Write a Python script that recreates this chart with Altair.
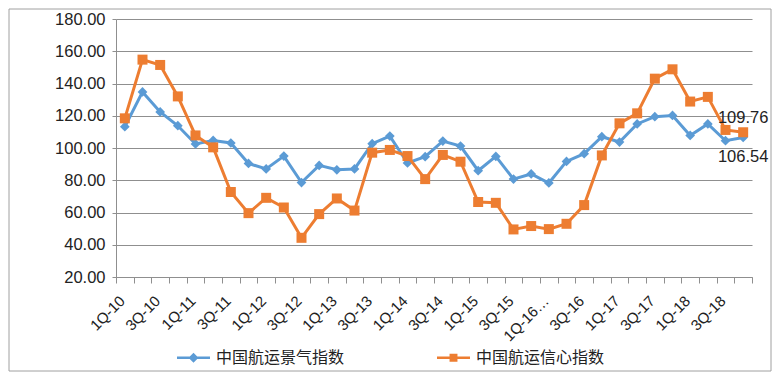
import json
import altair as alt
import pandas as pd

quarters = [
    "1Q-10", "2Q-10", "3Q-10", "4Q-10", "1Q-11", "2Q-11", "3Q-11", "4Q-11",
    "1Q-12", "2Q-12", "3Q-12", "4Q-12", "1Q-13", "2Q-13", "3Q-13", "4Q-13",
    "1Q-14", "2Q-14", "3Q-14", "4Q-14", "1Q-15", "2Q-15", "3Q-15", "4Q-15",
    "1Q-16", "2Q-16", "3Q-16", "4Q-16", "1Q-17", "2Q-17", "3Q-17", "4Q-17",
    "1Q-18", "2Q-18", "3Q-18", "4Q-18",
]
shown_labels = {
    "1Q-10": "1Q-10", "3Q-10": "3Q-10", "1Q-11": "1Q-11", "3Q-11": "3Q-11",
    "1Q-12": "1Q-12", "3Q-12": "3Q-12", "1Q-13": "1Q-13", "3Q-13": "3Q-13",
    "1Q-14": "1Q-14", "3Q-14": "3Q-14", "1Q-15": "1Q-15", "3Q-15": "3Q-15",
    "1Q-16": "1Q-16…", "3Q-16": "3Q-16", "1Q-17": "1Q-17", "3Q-17": "3Q-17",
    "1Q-18": "1Q-18", "3Q-18": "3Q-18",
}
series_names = ["中国航运景气指数", "中国航运信心指数"]
jingqi = [113.2, 134.8, 122.4, 113.8, 102.5, 104.7, 103.1, 90.4, 87.0, 95.0,
          78.6, 89.2, 86.5, 87.0, 102.7, 107.4, 90.7, 94.6, 104.3, 101.2,
          85.9, 94.8, 80.7, 83.9, 78.3, 91.7, 96.5, 107.0, 103.7, 114.9,
          119.4, 120.2, 107.8, 114.9, 104.5, 106.54]
xinxin = [118.4, 154.8, 151.5, 132.0, 107.8, 100.4, 72.7, 59.6, 69.1, 63.1,
          44.3, 59.0, 68.7, 61.2, 97.1, 98.8, 95.0, 80.7, 95.7, 91.5,
          66.5, 66.0, 49.5, 51.6, 49.7, 53.0, 64.6, 95.4, 115.3, 121.5,
          143.0, 148.8, 128.8, 131.7, 111.2, 109.76]
y_ticks = [20, 40, 60, 80, 100, 120, 140, 160, 180]

BLUE = "#5B9BD5"
ORANGE = "#ED7D31"
GRID = "#8f8f8f"
FONT = "Liberation Sans, Arial, Noto Sans CJK SC, sans-serif"

df = pd.DataFrame({
    "quarter": quarters * 2,
    "series": [series_names[0]] * len(quarters) + [series_names[1]] * len(quarters),
    "value": jingqi + xinxin,
})

label_expr = "(" + json.dumps(shown_labels, ensure_ascii=False) + ")[datum.value] || ''"

x_enc = alt.X(
    "quarter:N", sort=quarters,
    scale=alt.Scale(type="band", paddingInner=0, paddingOuter=0),
    axis=alt.Axis(
        title=None, tickBand="extent", labelAngle=-45, labelExpr=label_expr,
        labelAlign="right", labelBaseline="middle", labelOffset=-3,
        domainColor=GRID, tickColor=GRID, tickSize=6, grid=False,
        labelFontSize=15, labelFont=FONT, labelColor="#222", labelPadding=15,
    ),
)
y_enc = alt.Y(
    "value:Q",
    scale=alt.Scale(domain=[20, 180], nice=False, zero=False),
    axis=alt.Axis(
        title=None, values=y_ticks, format=".2f", tickSize=4, tickColor=GRID,
        domainColor=GRID, gridColor=GRID, labelFontSize=16.5, labelFont=FONT,
        labelColor="#222", labelPadding=7,
    ),
)

base = alt.Chart(df).encode(x=x_enc, y=y_enc)

def series_layers(name, color, shape, size):
    sub = base.transform_filter(alt.datum.series == name)
    line = sub.mark_line(color=color, strokeWidth=3)
    pts = sub.mark_point(shape=shape, filled=True, color=color, size=size, opacity=1)
    return [line, pts]

blue_layers = series_layers(series_names[0], BLUE, "diamond", 95)
orange_layers = series_layers(series_names[1], ORANGE, "square", 100)

last_blue = base.transform_filter(
    (alt.datum.series == series_names[0]) & (alt.datum.quarter == quarters[-1])
).mark_text(dy=20, fontSize=16.5, font=FONT, color="#222").encode(text=alt.Text("value:Q", format=".2f"))
last_orange = base.transform_filter(
    (alt.datum.series == series_names[1]) & (alt.datum.quarter == quarters[-1])
).mark_text(dy=-14, fontSize=16.5, font=FONT, color="#222").encode(text=alt.Text("value:Q", format=".2f"))

diamond_path = "M-1,-0.08L1,-0.08L1,0.08L-1,0.08Z M0,-0.3L0.3,0L0,0.3L-0.3,0Z"
square_path = "M-1,-0.08L1,-0.08L1,0.08L-1,0.08Z M-0.24,-0.24L0.24,-0.24L0.24,0.24L-0.24,0.24Z"
legend_cfg = dict(
    orient="none", legendX=61, legendY=322, direction="horizontal", title=None,
    symbolSize=1089, symbolStrokeWidth=0, labelFontSize=16, labelFont=FONT,
    labelColor="#222", labelOffset=6, columnPadding=92,
)
legend_layer = alt.Chart(df).transform_filter("datum.value < -100000").mark_point(
    filled=True, opacity=1
).encode(
    x=x_enc, y=y_enc,
    color=alt.Color("series:N", scale=alt.Scale(domain=series_names, range=[BLUE, ORANGE]),
                    legend=alt.Legend(**legend_cfg)),
    shape=alt.Shape("series:N", scale=alt.Scale(domain=series_names, range=[diamond_path, square_path]),
                    legend=alt.Legend(**legend_cfg)),
)

frame = alt.Chart(pd.DataFrame({"a": [0]})).mark_rect(
    fillOpacity=0, stroke="#a0a0a0", strokeWidth=1
).encode(x=alt.value(-107), x2=alt.value(655), y=alt.value(-10), y2=alt.value(352))

chart = alt.layer(
    frame, *blue_layers, *orange_layers, last_blue, last_orange, legend_layer
).properties(
    width=636, height=258,
    padding={"left": 108, "top": 11, "right": 20, "bottom": 97},
    autosize=alt.AutoSizeParams(type="none"),
    background="white",
).configure_view(strokeWidth=0)

chart.save("out.html", embed_options={"renderer": "svg", "actions": False})
